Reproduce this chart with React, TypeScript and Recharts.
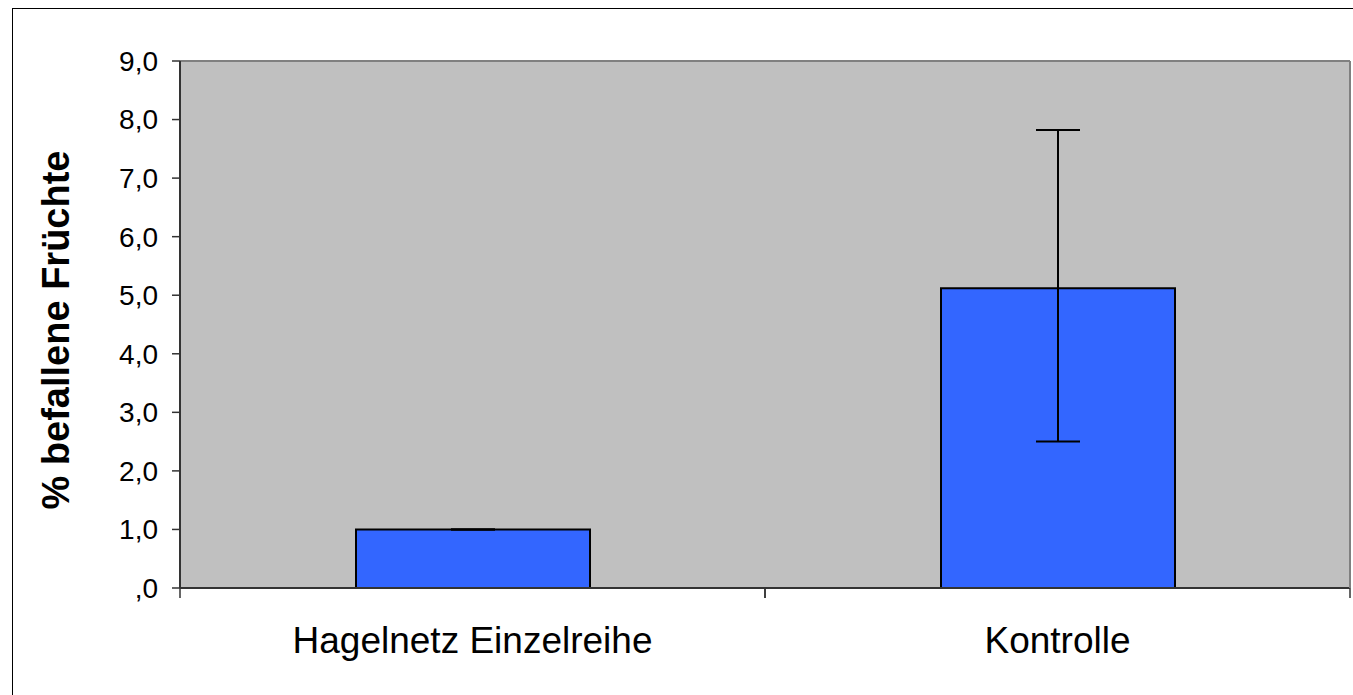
/**
 * Befallene Früchte chart
 *
 * Bar chart with error bars: share of infested fruit
 * for hail net single row vs. control.
 */
import {
  BarChart,
  Bar,
  XAxis,
  YAxis,
  CartesianGrid,
  ErrorBar,
  ReferenceLine,
} from 'recharts';

const categories = ['Hagelnetz Einzelreihe', 'Kontrolle'];
const means = [1.0, 5.12];
const errLow = [0, 2.62];
const errHigh = [0, 2.7];
const yTicks = [0, 1, 2, 3, 4, 5, 6, 7, 8, 9];

const data = categories.map((name, i) => ({
  name,
  value: means[i],
  err: [errLow[i], errHigh[i]],
}));

const FONT = '"Liberation Sans", Arial, sans-serif';
const AXIS = '#333333';

// german decimal comma, Excel style ",0" for zero
const fmtY = (v: number): string =>
  v === 0 ? ',0' : v.toFixed(1).replace('.', ',');

// category label plus tick marks on the category boundaries
function XTick(props: any): JSX.Element {
  const { x, y, payload } = props;
  const half = 585 / 2;
  return (
    <g>
      <line x1={x - half} x2={x - half} y1={y} y2={y + 10} stroke={AXIS} strokeWidth={1.5} />
      <line x1={x + half} x2={x + half} y1={y} y2={y + 10} stroke={AXIS} strokeWidth={1.5} />
      <text x={x} y={y + 65} textAnchor="middle" fontSize={37} fontFamily={FONT} fill="#000">
        {payload.value}
      </text>
    </g>
  );
}

function YLabel(): JSX.Element {
  return (
    <text
      x={69}
      y={330}
      transform="rotate(-90 69 330)"
      textAnchor="middle"
      fontSize={38}
      fontWeight="bold"
      fontFamily={FONT}
      fill="#000"
    >
      % befallene Früchte
    </text>
  );
}

export default function App(): JSX.Element {
  return (
    <div
      style={{
        position: 'fixed',
        left: 0,
        top: 0,
        width: 1353,
        height: 695,
        overflow: 'hidden',
        background: '#fff',
        fontFamily: FONT,
      }}
    >
      <div
        style={{
          position: 'absolute',
          left: 12,
          top: 8,
          width: 1400,
          height: 800,
          borderTop: '1.5px solid #000',
          borderLeft: '1.5px solid #000',
        }}
      />
      <div style={{ position: 'absolute', left: 0, top: 0 }}>
        <BarChart
          width={1353}
          height={695}
          data={data}
          margin={{ top: 61, right: 0, bottom: 47, left: 0 }}
        >
          <CartesianGrid
            vertical={false}
            stroke="#000"
            strokeWidth={1}
            fill="#C0C0C0"
            fillOpacity={1}
          />
          <XAxis
            dataKey="name"
            height={60}
            tickLine={false}
            tickSize={0}
            tickMargin={0}
            axisLine={{ stroke: AXIS, strokeWidth: 2 }}
            tick={<XTick />}
            interval={0}
          />
          <YAxis
            yAxisId="left"
            width={180}
            domain={[0, 9]}
            ticks={yTicks}
            tickFormatter={fmtY}
            tickSize={8}
            tickMargin={14}
            tickLine={{ stroke: AXIS, strokeWidth: 1.5 }}
            axisLine={{ stroke: AXIS, strokeWidth: 2 }}
            tick={{ fontSize: 28, fill: '#000', fontFamily: FONT }}
            label={<YLabel />}
          />
          <YAxis
            yAxisId="right"
            orientation="right"
            width={3}
            domain={[0, 9]}
            tick={false}
            tickLine={false}
            axisLine={{ stroke: '#808080', strokeWidth: 2 }}
          />
          <ReferenceLine yAxisId="left" y={9} stroke="#808080" strokeWidth={2} />
          <Bar
            yAxisId="left"
            dataKey="value"
            barSize={234}
            fill="#3366FF"
            stroke="#000"
            strokeWidth={2}
            isAnimationActive={false}
          >
            <ErrorBar dataKey="err" width={22} stroke="#000" strokeWidth={2} direction="y" />
          </Bar>
        </BarChart>
      </div>
    </div>
  );
}
